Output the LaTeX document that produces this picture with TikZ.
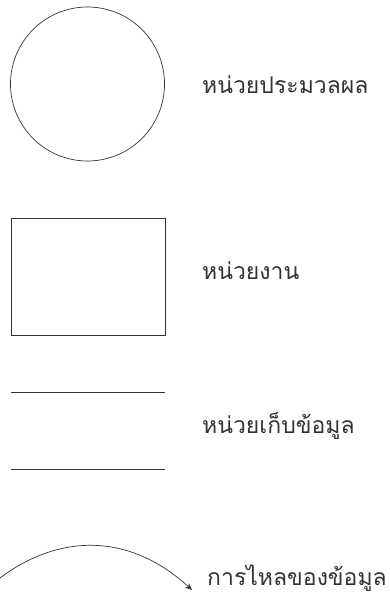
\documentclass[tikz,border=0pt]{standalone}
\usepackage{fontspec}
\newfontfamily\thaifont[Script=Thai]{Loma}
\usetikzlibrary{arrows.meta}
\begin{document}
\begin{tikzpicture}[x=1pt,y=-1pt,
		sym/.style={draw=black!80, line width=0.7pt},
		lbl/.style={anchor=west, inner sep=0pt, font=\thaifont\fontsize{23}{26}\selectfont, text=black!80}]
		\useasboundingbox (0,0) rectangle (390,594);
		\node[sym, circle, minimum size=154pt, inner sep=0pt] (proc) at (87.5,84) {};
		\node[lbl] (tproc) at (202,85) {หน่วยประมวลผล};
		\node[sym, rectangle, minimum width=154pt, minimum height=117pt, inner sep=0pt] (unit) at (88,276.5) {};
		\node[lbl] (tunit) at (202,271) {หน่วยงาน};
		\coordinate (st1) at (11,392);
		\coordinate (st2) at (165,392);
		\coordinate (sb1) at (11,469);
		\coordinate (sb2) at (165,469);
		\draw[sym] (st1) -- (st2);
		\draw[sym] (sb1) -- (sb2);
		\node[lbl] (tstore) at (202,426) {หน่วยเก็บข้อมูล};
		\coordinate (fs) at (0,578);
		\coordinate (fe) at (192,590);
		\draw[sym, -{Stealth[length=7pt,width=6pt]}] (fs) .. controls (60,533) and (130,533) .. (fe);
		\node[lbl] (tflow) at (207,578) {การไหลของข้อมูล};
	\end{tikzpicture}
\end{document}
